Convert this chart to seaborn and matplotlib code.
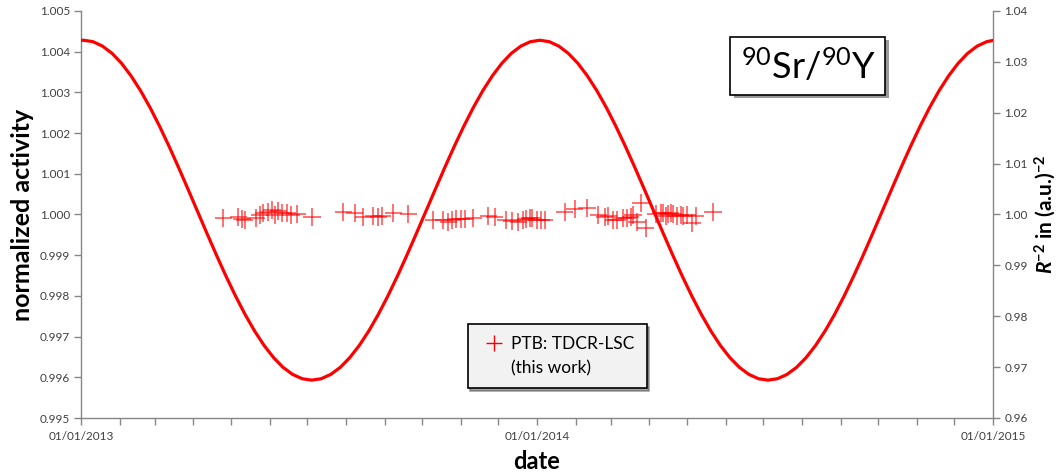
import numpy as np
import pandas as pd
import matplotlib
matplotlib.use("Agg")
import matplotlib.pyplot as plt
import matplotlib.dates as mdates
import matplotlib.patheffects as pe
from matplotlib.lines import Line2D
import seaborn as sns

# ---------------- data ----------------
# measurement days (offset from 2013-01-01) and normalized activity
meas_days = [114, 126, 129, 131, 140, 143, 146, 150, 153, 155, 158, 161, 165, 168, 173, 185,
             210, 219, 226, 234, 238, 241, 250, 262,
             282, 290, 294, 297, 300, 304, 307, 314, 326, 331, 340, 345, 350, 354, 356, 359,
             361, 365, 368, 371,
             387, 395, 405, 414, 419, 422, 426, 429, 434, 437, 440, 442, 445, 448, 452,
             460, 464, 466, 468, 470, 472, 474, 477, 480, 482, 485, 489, 492, 506]
meas_act = [0.99991, 0.99994, 0.99989, 0.99986, 0.99991, 0.99999, 1.00004, 1.00006, 1.00011,
            0.99999, 1.00009, 1.00004, 1.00004, 0.99999, 1.00001, 0.99994,
            1.00006, 1.00004, 0.99994, 0.99996, 0.99994, 0.99996, 1.00004, 1.00001,
            0.99986, 0.99986, 0.99982, 0.99986, 0.99989, 0.99989, 0.99989, 0.99991, 0.99996,
            0.99994, 0.99986, 0.99984, 0.99982, 0.99986, 0.99989, 0.99991, 0.99991, 0.99986,
            0.99986, 0.99986,
            1.00006, 1.00014, 1.00016, 0.99999, 0.99994, 0.99996, 0.99986, 0.99986, 0.99991,
            0.99991, 0.99994, 0.99999, 0.99982, 1.00028, 0.99967,
            1.00001, 1.00004, 1.00004, 0.99996, 1.00001, 1.00004, 1.00001, 0.99996, 0.99999,
            0.99996, 0.99999, 0.99979, 0.99996, 1.00006]
meas_xerr_days = 7
meas_yerr = 0.00022

# R^-2 curve: read at 01/01/2013, then every 1/48 year from perihelion (3 Jan 2013), and at 01/01/2015
curve_days = [0.0] + [2.0 + 7.609 * k for k in range(96)] + [730.0]
curve_vals = [1.03422,
              1.03424, 1.03395, 1.03308, 1.03166, 1.02970, 1.02723, 1.02432, 1.02100,
              1.01733, 1.01338, 1.00922, 1.00492, 1.00056, 0.99621, 0.99193, 0.98782,
              0.98393, 0.98033, 0.97708, 0.97424, 0.97185, 0.96994, 0.96856, 0.96772,
              0.96744, 0.96772, 0.96856, 0.96994, 0.97185, 0.97424, 0.97708, 0.98033,
              0.98393, 0.98782, 0.99193, 0.99621, 1.00056, 1.00492, 1.00922, 1.01338,
              1.01733, 1.02100, 1.02432, 1.02723, 1.02970, 1.03166, 1.03308, 1.03395,
              1.03424, 1.03395, 1.03308, 1.03166, 1.02970, 1.02723, 1.02432, 1.02100,
              1.01733, 1.01338, 1.00922, 1.00492, 1.00056, 0.99621, 0.99193, 0.98782,
              0.98393, 0.98033, 0.97708, 0.97424, 0.97185, 0.96994, 0.96856, 0.96772,
              0.96744, 0.96772, 0.96856, 0.96994, 0.97185, 0.97424, 0.97708, 0.98033,
              0.98393, 0.98782, 0.99193, 0.99621, 1.00056, 1.00492, 1.00922, 1.01338,
              1.01733, 1.02100, 1.02432, 1.02723, 1.02970, 1.03166, 1.03308, 1.03395,
              1.03421]

left_ticks = [0.995, 0.996, 0.997, 0.998, 0.999, 1.000, 1.001, 1.002, 1.003, 1.004, 1.005]
right_ticks = [0.96, 0.97, 0.98, 0.99, 1.00, 1.01, 1.02, 1.03, 1.04]

# ---------------- style ----------------
sns.set_theme(style="white")
FONT = ["Lato", "DejaVu Sans"]
plt.rcParams["font.family"] = FONT
plt.rcParams["mathtext.fontset"] = "custom"
plt.rcParams["mathtext.rm"] = "Lato"
plt.rcParams["mathtext.it"] = "Lato:italic"
plt.rcParams["mathtext.bf"] = "Lato:bold"
plt.rcParams["mathtext.bfit"] = "Lato:bold:italic"

RED = "#ff0000"
SPINE = "#868686"
TXT = "#404040"

fig = plt.figure(figsize=(10.58, 4.75), dpi=100)
ax = fig.add_axes([0.0766, 0.12, 0.862, 0.857])
ax2 = ax.twinx()

t0 = pd.Timestamp("2013-01-01")
meas_dates = t0 + pd.to_timedelta(meas_days, unit="D")
ax.errorbar(meas_dates, meas_act, xerr=pd.Timedelta(days=meas_xerr_days), yerr=meas_yerr,
            fmt="none", ecolor=RED, elinewidth=1.3, alpha=0.6, capsize=0, zorder=3)

cdf = pd.DataFrame({"date": t0 + pd.to_timedelta(curve_days, unit="D"), "val": curve_vals})
sns.lineplot(data=cdf, x="date", y="val", ax=ax2, color=RED, linewidth=2.3, zorder=4)

# axes limits and ticks
ax.set_xlim(pd.Timestamp("2013-01-01"), pd.Timestamp("2015-01-01"))
ax.set_ylim(0.995, 1.005)
ax2.set_ylim(0.96, 1.04)
ax.set_yticks(left_ticks)
ax.set_yticklabels([f"{t:.3f}" for t in left_ticks])
ax2.set_yticks(right_ticks)
ax2.set_yticklabels([f"{t:.2f}" for t in right_ticks])
ax.xaxis.set_major_locator(mdates.YearLocator())
ax.xaxis.set_major_formatter(mdates.DateFormatter("%d/%m/%Y"))
ax.xaxis.set_minor_locator(mdates.MonthLocator())

for a in (ax, ax2):
    for s in a.spines.values():
        s.set_color(SPINE)
        s.set_linewidth(1.0)
    a.spines["top"].set_visible(False)
    a.grid(False)
ax.spines["right"].set_visible(False)
ax2.spines["left"].set_visible(False)
ax2.spines["bottom"].set_visible(False)

ax.tick_params(axis="y", which="both", left=True, direction="out", length=5, width=1,
               color=SPINE, labelsize=8.5, labelcolor=TXT, pad=3)
ax.tick_params(axis="x", which="both", bottom=True, direction="out", length=5, width=1,
               color=SPINE, labelsize=8.5, labelcolor=TXT, pad=4)
ax2.tick_params(axis="y", which="both", right=True, direction="out", length=5, width=1,
                color=SPINE, labelsize=8.5, labelcolor=TXT, pad=3)

ax.set_xlabel("date", fontsize=17, fontweight="bold", color="black")
ax.xaxis.set_label_coords(0.5, -0.078)
ax.set_ylabel("normalized activity", fontsize=18, fontweight="bold", color="black")
ax.yaxis.set_label_coords(-0.052, 0.5)
ax2.set_ylabel(r"$\mathbfit{R}^{\mathbf{-2}}$ in (a.u.)$^{\mathbf{-2}}$", fontsize=15,
               fontweight="bold", color="black", rotation=90)
ax2.yaxis.set_label_coords(1.043, 0.5)

# title box
t = ax.text(0.797, 0.865, r"$^{90}$Sr/$^{90}$Y", transform=ax.transAxes, fontsize=26,
            ha="center", va="center", color="black", zorder=6,
            bbox=dict(boxstyle="square,pad=0.28", facecolor="white", edgecolor="black", linewidth=1.2))
t.get_bbox_patch().set_path_effects([pe.SimplePatchShadow(offset=(2.5, -2.5), shadow_rgbFace="#555555", alpha=0.6), pe.Normal()])

# legend
h1 = Line2D([], [], color=RED, marker="+", linestyle="none", markersize=11, markeredgewidth=1.0)
h2 = Line2D([], [], color="none", marker="none", linestyle="none")
leg = ax.legend([h1, h2], ["PTB: TDCR-LSC", "(this work)"], loc="center",
                bbox_to_anchor=(0.522, 0.152), frameon=True, fancybox=False, shadow=True,
                facecolor="#f2f2f2", edgecolor="black", fontsize=12.5, handlelength=1.6,
                handletextpad=0.2, labelspacing=0.45, borderpad=0.7, framealpha=1)
leg.get_frame().set_linewidth(1.2)
for txt in leg.get_texts():
    txt.set_color("black")
leg.set_zorder(7)

fig.savefig("out.png", dpi=100, facecolor="white")
